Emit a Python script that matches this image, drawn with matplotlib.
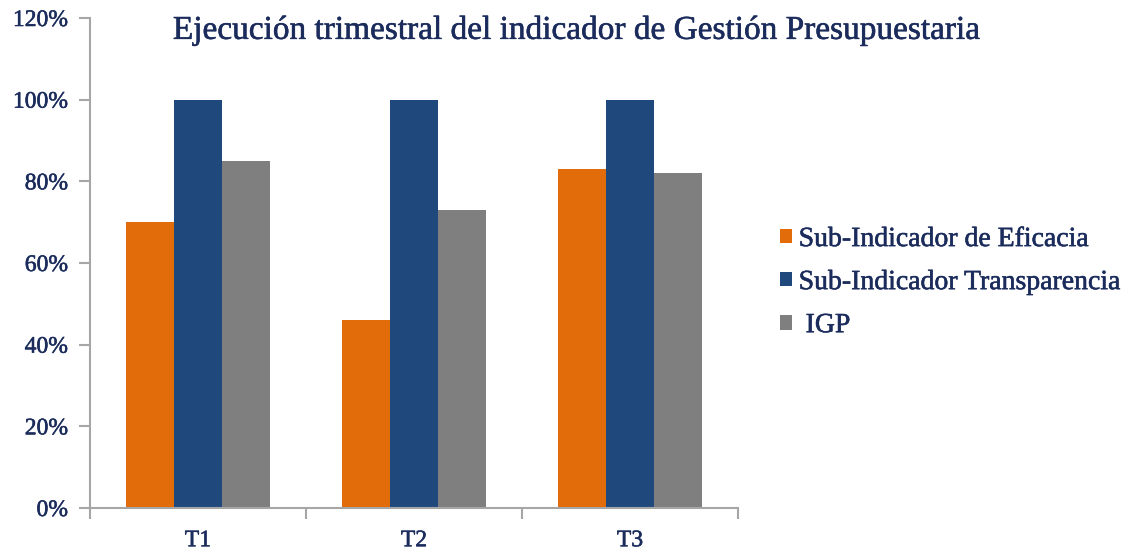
import numpy as np
import matplotlib
matplotlib.use("Agg")
import matplotlib.pyplot as plt
import matplotlib.patheffects as pe
from matplotlib.ticker import FixedLocator, FuncFormatter

quarters = ["T1", "T2", "T3"]
series_names = ["Sub-Indicador de Eficacia", "Sub-Indicador Transparencia", " IGP"]
eficacia = [70, 46, 83]
transparencia = [100, 100, 100]
igp = [85, 73, 82]
colors = ["#E36C0A", "#1F497D", "#7F7F7F"]
text_color = "#1B2C5C"

plt.rcParams['font.family'] = ['Liberation Serif', 'DejaVu Serif']
# fake a semi-bold weight with a thin outline
heavy = [pe.withStroke(linewidth=0.4, foreground=text_color)]

fig = plt.figure(figsize=(11.4, 5.52), dpi=100)
ax = fig.add_axes([90 / 1140, 44 / 552, 648 / 1140, 490 / 552])

x = np.arange(len(quarters))
w = 2 / 9
for i, (vals, name) in enumerate(zip([eficacia, transparencia, igp], series_names)):
    ax.bar(x + (i - 1) * w, vals, width=w, color=colors[i], label=name)

ax.set_xlim(-0.5, len(quarters) - 0.5)
ax.set_ylim(0, 120)
ax.set_yticks(np.arange(0, 121, 20))
ax.yaxis.set_major_formatter(FuncFormatter(lambda v, p: f"{int(v)}%"))
ax.set_xticks(x)
ax.set_xticklabels(quarters)
ax.xaxis.set_minor_locator(FixedLocator(np.arange(-0.5, len(quarters), 1.0)))

for s in ["top", "right"]:
    ax.spines[s].set_visible(False)
for s in ["left", "bottom"]:
    ax.spines[s].set_color("#A6A6A6")
    ax.spines[s].set_linewidth(1.5)

ax.tick_params(axis="y", length=8, width=1.5, color="#A6A6A6", labelsize=17,
               labelcolor=text_color, pad=8)
ax.tick_params(axis="x", which="major", length=0, labelsize=17, labelcolor=text_color, pad=16)
ax.tick_params(axis="x", which="minor", length=8, width=1.5, color="#A6A6A6")
for t in ax.get_xticklabels() + ax.get_yticklabels():
    t.set_path_effects(heavy)

fig.text(0.506, 0.945, "Ejecución trimestral del indicador de Gestión Presupuestaria",
         ha="center", va="center", fontsize=24, color=text_color, path_effects=heavy)

leg = fig.legend(loc="center left", bbox_to_anchor=(0.684, 0.488), frameon=False,
                 borderpad=0, borderaxespad=0, fontsize=20, labelcolor=text_color,
                 handlelength=0.43, handleheight=0.43, handletextpad=0.25, labelspacing=0.65)
for t in leg.get_texts():
    t.set_path_effects(heavy)

fig.savefig("out.png", dpi=100)
